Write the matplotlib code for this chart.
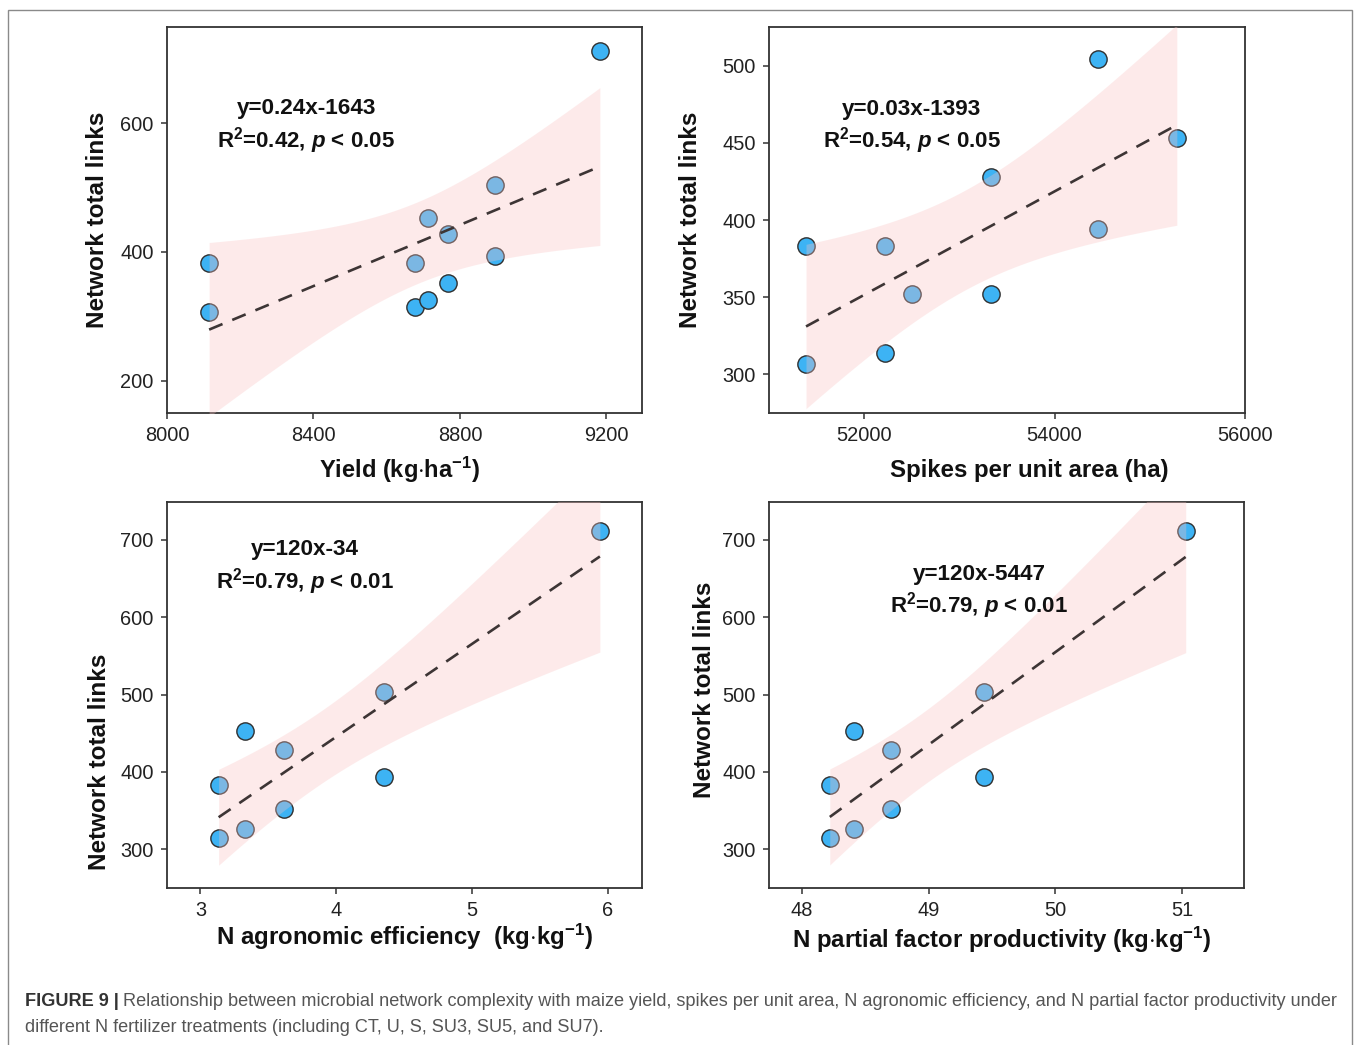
import numpy as np
import matplotlib
matplotlib.use('Agg')
import matplotlib.pyplot as plt
from matplotlib.patches import Rectangle

# ---------------- data ----------------
yield_vals = [8115, 8115, 8677, 8677, 8713, 8713, 8767, 8767, 8895, 8895, 9182]
links_yield = [383, 307, 383, 314, 453, 326, 428, 352, 504, 394, 712]

spikes_vals = [51389, 51389, 52221, 52221, 52505, 53337, 53337, 54453, 54453, 55284]
links_spikes = [383, 307, 383, 314, 352, 428, 352, 504, 394, 453]

nae_vals = [3.134, 3.134, 3.33, 3.33, 3.617, 3.617, 4.348, 4.348, 5.94]
links_nae = [383, 314, 453, 326, 428, 352, 503, 394, 712]

npfp_vals = [48.22, 48.22, 48.41, 48.41, 48.70, 48.70, 49.44, 49.44, 51.03]
links_npfp = [383, 314, 453, 326, 428, 352, 503, 394, 712]

eq_texts = ["y=0.24x-1643", "y=0.03x-1393", "y=120x-34", "y=120x-5447"]
r2_texts = ["0.42", "0.54", "0.79", "0.79"]
p_texts = ["0.05", "0.05", "0.01", "0.01"]
xlabels = [r"Yield (kg$\cdot$ha$^{\mathregular{-1}}$)", "Spikes per unit area (ha)",
           r"N agronomic efficiency  (kg$\cdot$kg$^{\mathregular{-1}}$)",
           r"N partial factor productivity (kg$\cdot$kg$^{\mathregular{-1}}$)"]
ylabel = "Network total links"
xticks_list = [[8000, 8400, 8800, 9200], [52000, 54000, 56000], [3, 4, 5, 6], [48, 49, 50, 51]]
yticks_list = [[200, 400, 600], [300, 350, 400, 450, 500], [300, 400, 500, 600, 700], [300, 400, 500, 600, 700]]
xlims = [(8000, 9297), (51000, 56000), (2.754, 6.25), (47.74, 51.49)]
ylims = [(150, 749), (275, 525), (250, 749), (250, 749)]

caption_bold = "FIGURE 9 |"
caption_l1 = ("Relationship between microbial network complexity with maize yield, spikes per unit area, "
              "N agronomic efficiency, and N partial factor productivity under")
caption_l2 = "different N fertilizer treatments (including CT, U, S, SU3, SU5, and SU7)."

# ---------------- fonts ----------------
FONT = 'Liberation Sans'
plt.rcParams['font.family'] = [FONT, 'DejaVu Sans']
plt.rcParams['mathtext.fontset'] = 'custom'
plt.rcParams['mathtext.rm'] = FONT + ':bold'
plt.rcParams['mathtext.it'] = FONT + ':italic:bold'
plt.rcParams['mathtext.bf'] = FONT + ':bold'

W, H = 1357, 1045
fig = plt.figure(figsize=(W / 100, H / 100), dpi=100)
fig.patch.set_facecolor('white')

rects = [
    [167 / W, 1 - 413 / H, 475 / W, 386 / H],
    [769 / W, 1 - 413 / H, 476 / W, 386 / H],
    [167 / W, 1 - 888 / H, 475 / W, 386 / H],
    [769 / W, 1 - 888 / H, 475 / W, 386 / H],
]
datasets = [(yield_vals, links_yield), (spikes_vals, links_spikes),
            (nae_vals, links_nae), (npfp_vals, links_npfp)]
tvals = {7: 2.365, 8: 2.306, 9: 2.262}
ylab_pos = [(-0.146, 0.5), (-0.164, 0.5), (-0.143, 0.326), (-0.135, 0.513)]
xlab_pos = [(0.49, -0.148), (0.546, -0.148), (0.50, -0.127), (0.49, -0.135)]
xlab_size = [17.0, 17.3, 17.3, 17.3]
ann_pos = [(0.293, 0.788, 0.707), (0.300, 0.785, 0.705), (0.291, 0.876, 0.795), (0.442, 0.811, 0.731)]

spine_c = '#333333'
for i in range(4):
    ax = fig.add_axes(rects[i])
    x = np.asarray(datasets[i][0], float)
    y = np.asarray(datasets[i][1], float)
    n = len(x)
    b, a = np.polyfit(x, y, 1)
    xs = np.linspace(x.min(), x.max(), 200)
    yhat = a + b * xs
    resid = y - (a + b * x)
    s = np.sqrt(np.sum(resid ** 2) / (n - 2))
    sxx = np.sum((x - x.mean()) ** 2)
    se = s * np.sqrt(1 / n + (xs - x.mean()) ** 2 / sxx)
    t = tvals[n - 2]

    ax.scatter(x, y, s=155, color='#3db3f4', edgecolor='#2f2f2f', linewidth=1.0, zorder=2)
    ax.fill_between(xs, yhat - t * se, yhat + t * se, color=(0.98, 0.76, 0.76), alpha=0.33,
                    linewidth=0, zorder=3)
    ax.plot(xs, yhat, color='#3d3535', lw=1.9, dashes=(5.5, 4.0), zorder=4)

    ax.set_xlim(*xlims[i])
    ax.set_ylim(*ylims[i])
    ax.set_xticks(xticks_list[i])
    ax.set_yticks(yticks_list[i])
    ax.tick_params(direction='out', length=4.5, width=1.1, color=spine_c,
                   labelsize=14.4, labelcolor='#222222', pad=5)
    for sp in ax.spines.values():
        sp.set_color(spine_c)
        sp.set_linewidth(1.3)
    ax.set_ylabel(ylabel, fontweight='bold', fontsize=17.5, color='#111111', va='center')
    ax.yaxis.set_label_coords(*ylab_pos[i])
    ax.set_xlabel(xlabels[i], fontweight='bold', fontsize=xlab_size[i], color='#111111', va='center')
    ax.xaxis.set_label_coords(*xlab_pos[i])

    ax_x, ay1, ay2 = ann_pos[i]
    ax.text(ax_x, ay1, eq_texts[i], transform=ax.transAxes, ha='center', va='center',
            fontsize=16.2, fontweight='bold', color='#111111', zorder=5)
    ax.text(ax_x, ay2, r"R$^{\mathregular{2}}$=" + r2_texts[i] + ", $p$ < " + p_texts[i],
            transform=ax.transAxes, ha='center', va='center',
            fontsize=16.0, fontweight='bold', color='#111111', zorder=5)

# outer frame
fig.patches.append(Rectangle((8 / W, -0.02), (1352 - 8) / W, 1 - 10 / H + 0.02,
                             transform=fig.transFigure, fill=False, edgecolor='#8a8a8a',
                             linewidth=1.0))

# caption
renderer = fig.canvas.get_renderer()
cap_fs = 13.05
tb = fig.text(25 / W, 1 - 1001 / H, caption_bold, fontweight='bold',
              fontsize=cap_fs, color='#333333', va='center', ha='left')
bb = tb.get_window_extent(renderer=renderer)
fig.text((bb.x1 + 4) / W, 1 - 1001 / H, caption_l1, fontsize=cap_fs,
         color='#555555', va='center', ha='left')
fig.text(25 / W, 1 - 1027 / H, caption_l2, fontsize=cap_fs,
         color='#555555', va='center', ha='left')

fig.savefig('out.png', dpi=100, facecolor='white')
